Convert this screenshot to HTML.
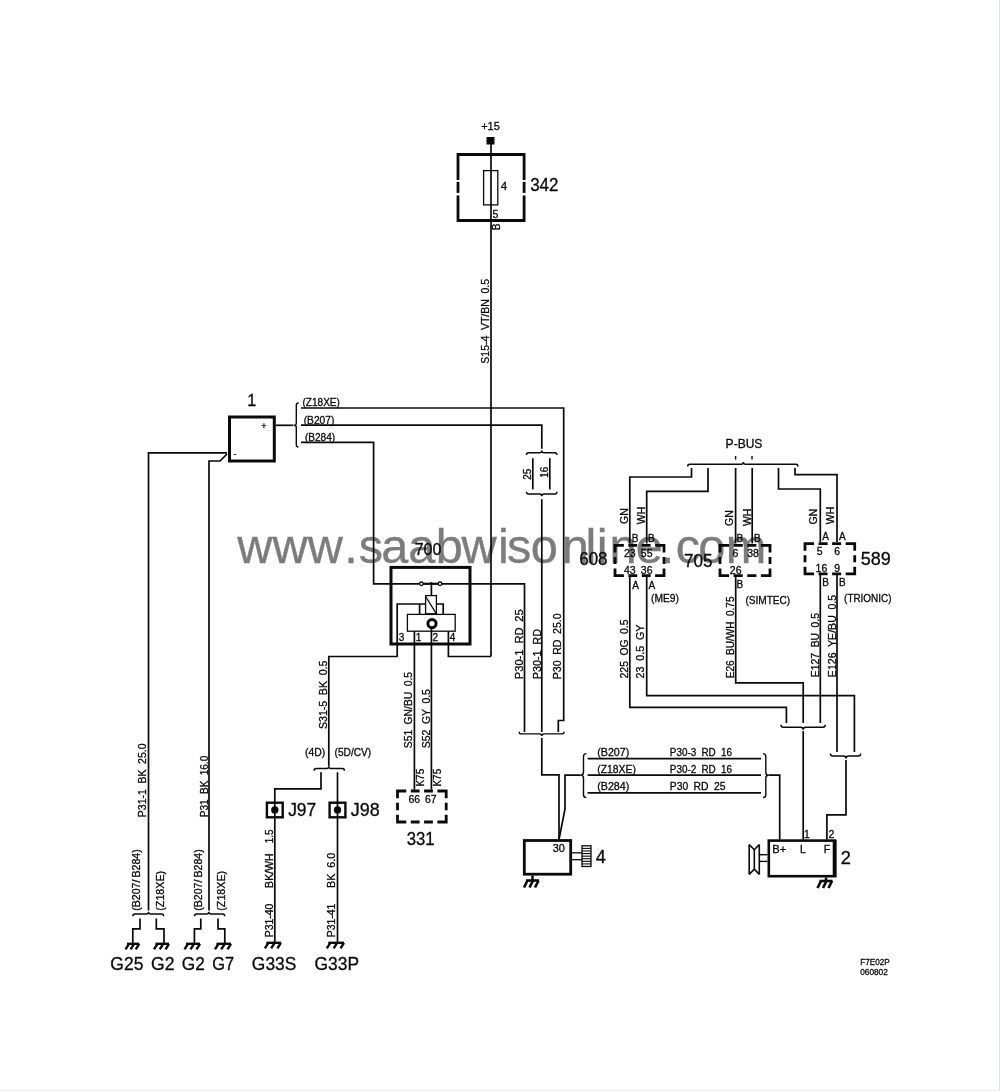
<!DOCTYPE html>
<html><head><meta charset="utf-8"><style>
html,body{margin:0;padding:0;background:#fff;}
svg{display:block;will-change:transform;}
text{font-family:"Liberation Sans", sans-serif;white-space:pre;}
.t{stroke:#0a0a0a;stroke-width:0.3;word-spacing:0.25em;}
</style></head><body>
<svg width="1000" height="1091" viewBox="0 0 1000 1091">
<rect x="0" y="0" width="1000" height="1091" fill="#fff"/>
<text x="237.30 272.47 307.64 344.31 358.84 381.19 408.27 435.86 461.44 498.11 506.93 530.78 561.87 585.45 596.77 609.59 635.68 660.76 675.79 698.14 725.72" y="562.7" font-size="48.7" fill="#7c7c7c" stroke="#7c7c7c" stroke-width="0.35">www.saabwisonline.com</text>
<text x="490.50" y="129.98" font-size="11" text-anchor="middle" fill="#0a0a0a" class="t">+15</text>
<rect x="486.50" y="137.00" width="8.00" height="7.50" fill="#0a0a0a"/>
<path d="M491.00,140.00 L491.00,656.50" fill="none" stroke="#0a0a0a" stroke-width="1.7"/>
<path d="M458.00,180.00 L458.00,154.50 L524.10,154.50 L524.10,180.00" fill="none" stroke="#0a0a0a" stroke-width="2.8"/>
<path d="M458.00,195.60 L458.00,220.50 L524.10,220.50 L524.10,195.60" fill="none" stroke="#0a0a0a" stroke-width="2.8"/>
<path d="M458.00,181.80 L458.00,192.90" fill="none" stroke="#0a0a0a" stroke-width="2.8"/>
<path d="M524.10,181.80 L524.10,192.90" fill="none" stroke="#0a0a0a" stroke-width="2.8"/>
<rect x="483.60" y="170.60" width="14.20" height="34.30" fill="none" stroke="#0a0a0a" stroke-width="1.3"/>
<text x="504.00" y="189.76" font-size="11.5" text-anchor="middle" fill="#0a0a0a" class="t">4</text>
<text x="544.35" y="191.32" font-size="17.8" text-anchor="middle" fill="#0a0a0a" class="t" textLength="28.37" lengthAdjust="spacingAndGlyphs">342</text>
<text x="495.50" y="217.81" font-size="10.5" text-anchor="middle" fill="#0a0a0a" class="t">5</text>
<text transform="translate(500.44,226.80) rotate(-90)" x="0" y="0" font-size="10" text-anchor="middle" fill="#0a0a0a" class="t">B</text>
<rect x="229.50" y="417.00" width="44.80" height="44.00" fill="none" stroke="#0a0a0a" stroke-width="3"/>
<text x="251.70" y="406.00" font-size="16" text-anchor="middle" fill="#0a0a0a" class="t">1</text>
<text x="264.00" y="428.60" font-size="9" text-anchor="middle" fill="#0a0a0a" class="t">+</text>
<text x="235.00" y="456.60" font-size="9" text-anchor="middle" fill="#0a0a0a" class="t">-</text>
<path d="M276.00,425.30 L293.50,425.30" fill="none" stroke="#0a0a0a" stroke-width="1.7"/>
<path d="M298.50,403.00 Q296.30,403.00 296.30,405.20 L296.30,423.10 Q296.30,425.30 294.10,425.30 Q296.30,425.30 296.30,427.50 L296.30,444.80 Q296.30,447.00 298.50,447.00" fill="none" stroke="#0a0a0a" stroke-width="1.4"/>
<text x="321.20" y="406.11" font-size="10.5" text-anchor="middle" fill="#0a0a0a" class="t" textLength="37.43" lengthAdjust="spacingAndGlyphs">(Z18XE)</text>
<text x="319.00" y="423.61" font-size="10.5" text-anchor="middle" fill="#0a0a0a" class="t" textLength="30.63" lengthAdjust="spacingAndGlyphs">(B207)</text>
<text x="320.00" y="440.61" font-size="10.5" text-anchor="middle" fill="#0a0a0a" class="t" textLength="30.23" lengthAdjust="spacingAndGlyphs">(B284)</text>
<path d="M301.00,408.00 L563.70,408.00 L563.70,720.50 L558.30,720.50 L558.30,732.00" fill="none" stroke="#0a0a0a" stroke-width="1.7"/>
<path d="M301.00,425.20 L541.80,425.20 L541.80,448.80" fill="none" stroke="#0a0a0a" stroke-width="1.7"/>
<path d="M526.40,455.00 Q526.40,452.80 528.60,452.80 L539.60,452.80 Q541.80,452.80 541.80,450.60 Q541.80,452.80 544.00,452.80 L554.80,452.80 Q557.00,452.80 557.00,455.00" fill="none" stroke="#0a0a0a" stroke-width="1.4"/>
<path d="M532.80,458.20 L532.80,489.40" fill="none" stroke="#0a0a0a" stroke-width="1.7"/>
<path d="M549.80,458.20 L549.80,489.40" fill="none" stroke="#0a0a0a" stroke-width="1.7"/>
<text transform="translate(531.04,474.20) rotate(-90)" x="0" y="0" font-size="10" text-anchor="middle" fill="#0a0a0a" class="t">25</text>
<text transform="translate(548.24,472.20) rotate(-90)" x="0" y="0" font-size="10" text-anchor="middle" fill="#0a0a0a" class="t">16</text>
<path d="M526.40,491.80 Q526.40,494.00 528.60,494.00 L539.60,494.00 Q541.80,494.00 541.80,496.20 Q541.80,494.00 544.00,494.00 L554.80,494.00 Q557.00,494.00 557.00,491.80" fill="none" stroke="#0a0a0a" stroke-width="1.4"/>
<path d="M541.80,499.20 L541.80,732.00" fill="none" stroke="#0a0a0a" stroke-width="1.7"/>
<path d="M301.00,442.40 L373.60,442.40 L373.60,583.80 L419.40,583.80" fill="none" stroke="#0a0a0a" stroke-width="1.7"/>
<path d="M227.00,452.80 L148.50,452.80 L148.50,910.50" fill="none" stroke="#0a0a0a" stroke-width="1.7"/>
<path d="M227.00,454.00 L220.00,461.00 L209.00,461.00 L209.00,910.50" fill="none" stroke="#0a0a0a" stroke-width="1.7"/>
<text transform="translate(146.08,780.30) rotate(-90)" x="0" y="0" font-size="11" text-anchor="middle" fill="#0a0a0a" class="t" textLength="73.86" lengthAdjust="spacingAndGlyphs">P31-1 BK 25.0</text>
<text transform="translate(207.98,786.50) rotate(-90)" x="0" y="0" font-size="11" text-anchor="middle" fill="#0a0a0a" class="t" textLength="61.46" lengthAdjust="spacingAndGlyphs">P31 BK 16.0</text>
<rect x="391.00" y="567.40" width="79.00" height="76.60" fill="none" stroke="#0a0a0a" stroke-width="3"/>
<text x="428.00" y="554.50" font-size="16" text-anchor="middle" fill="#0a0a0a" class="t">700</text>
<circle cx="421.40" cy="583.80" r="1.80" fill="#fff" stroke="#0a0a0a" stroke-width="1.3"/>
<circle cx="440.00" cy="583.80" r="1.80" fill="#fff" stroke="#0a0a0a" stroke-width="1.3"/>
<path d="M423.20,583.80 L438.20,583.80" fill="none" stroke="#0a0a0a" stroke-width="2.2"/>
<path d="M441.80,583.80 L524.50,583.80 L524.50,732.00" fill="none" stroke="#0a0a0a" stroke-width="1.7"/>
<path d="M431.40,582.00 L431.40,595.60" fill="none" stroke="#0a0a0a" stroke-width="1.7"/>
<path d="M397.20,656.80 L397.20,604.00 L443.20,604.00 L443.20,614.40" fill="none" stroke="#0a0a0a" stroke-width="1.7"/>
<path d="M419.60,604.00 L419.60,614.40" fill="none" stroke="#0a0a0a" stroke-width="1.7"/>
<rect x="425.60" y="595.60" width="10.80" height="18.20" fill="#fff" stroke="#0a0a0a" stroke-width="1.3"/>
<path d="M425.60,596.50 L436.40,613.80" fill="none" stroke="#0a0a0a" stroke-width="1.3"/>
<rect x="407.40" y="614.40" width="47.80" height="16.80" fill="none" stroke="#0a0a0a" stroke-width="1.3"/>
<circle cx="432.00" cy="623.60" r="4.10" fill="none" stroke="#0a0a0a" stroke-width="3.0"/>
<path d="M414.40,631.20 L414.40,789.70" fill="none" stroke="#0a0a0a" stroke-width="1.7"/>
<path d="M431.40,627.80 L431.40,789.70" fill="none" stroke="#0a0a0a" stroke-width="1.7"/>
<path d="M448.40,631.20 L448.40,656.50 L491.00,656.50" fill="none" stroke="#0a0a0a" stroke-width="1.7"/>
<text x="401.60" y="640.84" font-size="10" text-anchor="middle" fill="#0a0a0a" class="t">3</text>
<text x="418.60" y="640.84" font-size="10" text-anchor="middle" fill="#0a0a0a" class="t">1</text>
<text x="435.40" y="640.84" font-size="10" text-anchor="middle" fill="#0a0a0a" class="t">2</text>
<text x="452.60" y="640.84" font-size="10" text-anchor="middle" fill="#0a0a0a" class="t">4</text>
<path d="M397.20,656.50 L328.80,656.50 L328.80,766.00" fill="none" stroke="#0a0a0a" stroke-width="1.7"/>
<text transform="translate(326.98,694.85) rotate(-90)" x="0" y="0" font-size="11" text-anchor="middle" fill="#0a0a0a" class="t" textLength="68.56" lengthAdjust="spacingAndGlyphs">S31-5 BK 0.5</text>
<text transform="translate(411.98,710.10) rotate(-90)" x="0" y="0" font-size="11" text-anchor="middle" fill="#0a0a0a" class="t" textLength="76.26" lengthAdjust="spacingAndGlyphs">S51 GN/BU 0.5</text>
<text transform="translate(429.78,718.65) rotate(-90)" x="0" y="0" font-size="11" text-anchor="middle" fill="#0a0a0a" class="t" textLength="59.16" lengthAdjust="spacingAndGlyphs">S52 GY 0.5</text>
<text transform="translate(523.28,644.25) rotate(-90)" x="0" y="0" font-size="11" text-anchor="middle" fill="#0a0a0a" class="t" textLength="69.96" lengthAdjust="spacingAndGlyphs">P30-1 RD 25</text>
<text transform="translate(540.58,654.15) rotate(-90)" x="0" y="0" font-size="11" text-anchor="middle" fill="#0a0a0a" class="t" textLength="50.16" lengthAdjust="spacingAndGlyphs">P30-1 RD</text>
<text transform="translate(561.28,646.30) rotate(-90)" x="0" y="0" font-size="11" text-anchor="middle" fill="#0a0a0a" class="t" textLength="65.86" lengthAdjust="spacingAndGlyphs">P30 RD 25.0</text>
<text transform="translate(489.46,321.35) rotate(-90)" x="0" y="0" font-size="11.5" text-anchor="middle" fill="#0a0a0a" class="t" textLength="84.79" lengthAdjust="spacingAndGlyphs">S15-4 VT/BN 0.5</text>
<path d="M406.30,791.00 L397.50,791.00 L397.50,798.33 M437.40,791.00 L446.20,791.00 L446.20,798.33 M406.30,822.00 L397.50,822.00 L397.50,814.67 M437.40,822.00 L446.20,822.00 L446.20,814.67 M410.80,791.00 L419.60,791.00 M410.80,822.00 L419.60,822.00 M424.10,791.00 L432.90,791.00 M424.10,822.00 L432.90,822.00 M397.50,802.83 L397.50,810.17 M446.20,802.83 L446.20,810.17" fill="none" stroke="#0a0a0a" stroke-width="2.8" stroke-linejoin="miter"/>
<text x="414.30" y="803.01" font-size="10.5" text-anchor="middle" fill="#0a0a0a" class="t">66</text>
<text x="430.80" y="803.01" font-size="10.5" text-anchor="middle" fill="#0a0a0a" class="t">67</text>
<text transform="translate(423.61,777.70) rotate(-90)" x="0" y="0" font-size="10.5" text-anchor="middle" fill="#0a0a0a" class="t" textLength="17.83" lengthAdjust="spacingAndGlyphs">K75</text>
<text transform="translate(440.71,777.70) rotate(-90)" x="0" y="0" font-size="10.5" text-anchor="middle" fill="#0a0a0a" class="t" textLength="17.83" lengthAdjust="spacingAndGlyphs">K75</text>
<text x="420.60" y="844.82" font-size="17.8" text-anchor="middle" fill="#0a0a0a" class="t" textLength="27.87" lengthAdjust="spacingAndGlyphs">331</text>
<path d="M314.00,770.70 Q314.00,768.50 316.20,768.50 L326.60,768.50 Q328.80,768.50 328.80,766.30 Q328.80,768.50 331.00,768.50 L342.30,768.50 Q344.50,768.50 344.50,770.70" fill="none" stroke="#0a0a0a" stroke-width="1.4"/>
<path d="M321.00,772.30 L321.00,788.90 L274.80,788.90 L274.80,942.80" fill="none" stroke="#0a0a0a" stroke-width="1.7"/>
<path d="M337.50,772.30 L337.50,942.80" fill="none" stroke="#0a0a0a" stroke-width="1.7"/>
<text x="315.15" y="755.91" font-size="10.5" text-anchor="middle" fill="#0a0a0a" class="t" textLength="20.33" lengthAdjust="spacingAndGlyphs">(4D)</text>
<text x="352.90" y="755.91" font-size="10.5" text-anchor="middle" fill="#0a0a0a" class="t" textLength="36.63" lengthAdjust="spacingAndGlyphs">(5D/CV)</text>
<rect x="266.90" y="802.70" width="15.80" height="14.60" fill="#fff" stroke="#0a0a0a" stroke-width="2.4"/>
<circle cx="274.80" cy="809.90" r="3.70" fill="#0a0a0a" stroke="#0a0a0a" stroke-width="0"/>
<rect x="329.60" y="802.70" width="15.80" height="14.60" fill="#fff" stroke="#0a0a0a" stroke-width="2.4"/>
<circle cx="337.50" cy="809.90" r="3.70" fill="#0a0a0a" stroke="#0a0a0a" stroke-width="0"/>
<path d="M274.80,802.80 L274.80,817.00" fill="none" stroke="#0a0a0a" stroke-width="1.7"/>
<path d="M337.50,802.80 L337.50,817.00" fill="none" stroke="#0a0a0a" stroke-width="1.7"/>
<text x="302.20" y="816.32" font-size="17.8" text-anchor="middle" fill="#0a0a0a" class="t" textLength="28.07" lengthAdjust="spacingAndGlyphs">J97</text>
<text x="365.35" y="816.32" font-size="17.8" text-anchor="middle" fill="#0a0a0a" class="t" textLength="28.97" lengthAdjust="spacingAndGlyphs">J98</text>
<text transform="translate(273.31,920.50) rotate(-90)" x="0" y="0" font-size="10.5" text-anchor="middle" fill="#0a0a0a" class="t" textLength="33.63" lengthAdjust="spacingAndGlyphs">P31-40</text>
<text transform="translate(273.31,870.65) rotate(-90)" x="0" y="0" font-size="10.5" text-anchor="middle" fill="#0a0a0a" class="t" textLength="34.53" lengthAdjust="spacingAndGlyphs">BK/WH</text>
<text transform="translate(273.31,836.40) rotate(-90)" x="0" y="0" font-size="10.5" text-anchor="middle" fill="#0a0a0a" class="t" textLength="13.83" lengthAdjust="spacingAndGlyphs">1.5</text>
<text transform="translate(335.21,920.50) rotate(-90)" x="0" y="0" font-size="10.5" text-anchor="middle" fill="#0a0a0a" class="t" textLength="33.63" lengthAdjust="spacingAndGlyphs">P31-41</text>
<text transform="translate(335.21,870.40) rotate(-90)" x="0" y="0" font-size="10.5" text-anchor="middle" fill="#0a0a0a" class="t" textLength="35.03" lengthAdjust="spacingAndGlyphs">BK 6.0</text>
<path d="M266.40,942.80 L280.90,942.80" fill="none" stroke="#0a0a0a" stroke-width="2.4"/>
<path d="M268.40,942.80 L264.90,948.30" fill="none" stroke="#0a0a0a" stroke-width="2.4"/>
<path d="M274.65,942.80 L271.15,948.30" fill="none" stroke="#0a0a0a" stroke-width="2.4"/>
<path d="M280.90,942.80 L277.40,948.30" fill="none" stroke="#0a0a0a" stroke-width="2.4"/>
<path d="M328.30,942.80 L344.00,942.80" fill="none" stroke="#0a0a0a" stroke-width="2.4"/>
<path d="M330.30,942.80 L326.80,948.30" fill="none" stroke="#0a0a0a" stroke-width="2.4"/>
<path d="M337.15,942.80 L333.65,948.30" fill="none" stroke="#0a0a0a" stroke-width="2.4"/>
<path d="M344.00,942.80 L340.50,948.30" fill="none" stroke="#0a0a0a" stroke-width="2.4"/>
<text x="274.10" y="969.52" font-size="17.8" text-anchor="middle" fill="#0a0a0a" class="t" textLength="44.47" lengthAdjust="spacingAndGlyphs">G33S</text>
<text x="336.80" y="969.52" font-size="17.8" text-anchor="middle" fill="#0a0a0a" class="t" textLength="44.47" lengthAdjust="spacingAndGlyphs">G33P</text>
<path d="M132.80,916.20 Q132.80,914.00 135.00,914.00 L146.30,914.00 Q148.50,914.00 148.50,911.80 Q148.50,914.00 150.70,914.00 L161.50,914.00 Q163.70,914.00 163.70,916.20" fill="none" stroke="#0a0a0a" stroke-width="1.4"/>
<path d="M140.00,918.40 L140.00,928.80 L132.80,928.80 L132.80,943.50" fill="none" stroke="#0a0a0a" stroke-width="1.7"/>
<path d="M156.30,918.40 L156.30,928.80 L164.00,928.80 L164.00,943.50" fill="none" stroke="#0a0a0a" stroke-width="1.7"/>
<path d="M194.40,916.20 Q194.40,914.00 196.60,914.00 L206.60,914.00 Q208.80,914.00 208.80,911.80 Q208.80,914.00 211.00,914.00 L222.60,914.00 Q224.80,914.00 224.80,916.20" fill="none" stroke="#0a0a0a" stroke-width="1.4"/>
<path d="M200.80,918.40 L200.80,928.80 L194.40,928.80 L194.40,943.50" fill="none" stroke="#0a0a0a" stroke-width="1.7"/>
<path d="M218.00,918.40 L218.00,928.80 L224.80,928.80 L224.80,943.50" fill="none" stroke="#0a0a0a" stroke-width="1.7"/>
<path d="M127.00,943.80 L139.20,943.80" fill="none" stroke="#0a0a0a" stroke-width="2.4"/>
<path d="M129.00,943.80 L125.50,949.30" fill="none" stroke="#0a0a0a" stroke-width="2.4"/>
<path d="M134.10,943.80 L130.60,949.30" fill="none" stroke="#0a0a0a" stroke-width="2.4"/>
<path d="M139.20,943.80 L135.70,949.30" fill="none" stroke="#0a0a0a" stroke-width="2.4"/>
<path d="M155.50,943.80 L169.00,943.80" fill="none" stroke="#0a0a0a" stroke-width="2.4"/>
<path d="M157.50,943.80 L154.00,949.30" fill="none" stroke="#0a0a0a" stroke-width="2.4"/>
<path d="M163.25,943.80 L159.75,949.30" fill="none" stroke="#0a0a0a" stroke-width="2.4"/>
<path d="M169.00,943.80 L165.50,949.30" fill="none" stroke="#0a0a0a" stroke-width="2.4"/>
<path d="M186.00,943.80 L200.00,943.80" fill="none" stroke="#0a0a0a" stroke-width="2.4"/>
<path d="M188.00,943.80 L184.50,949.30" fill="none" stroke="#0a0a0a" stroke-width="2.4"/>
<path d="M194.00,943.80 L190.50,949.30" fill="none" stroke="#0a0a0a" stroke-width="2.4"/>
<path d="M200.00,943.80 L196.50,949.30" fill="none" stroke="#0a0a0a" stroke-width="2.4"/>
<path d="M216.50,943.80 L231.00,943.80" fill="none" stroke="#0a0a0a" stroke-width="2.4"/>
<path d="M218.50,943.80 L215.00,949.30" fill="none" stroke="#0a0a0a" stroke-width="2.4"/>
<path d="M224.75,943.80 L221.25,949.30" fill="none" stroke="#0a0a0a" stroke-width="2.4"/>
<path d="M231.00,943.80 L227.50,949.30" fill="none" stroke="#0a0a0a" stroke-width="2.4"/>
<text transform="translate(140.41,880.00) rotate(-90)" x="0" y="0" font-size="10.5" text-anchor="middle" fill="#0a0a0a" class="t" textLength="61.43" lengthAdjust="spacingAndGlyphs">(B207/ B284)</text>
<text transform="translate(164.41,890.80) rotate(-90)" x="0" y="0" font-size="10.5" text-anchor="middle" fill="#0a0a0a" class="t" textLength="39.83" lengthAdjust="spacingAndGlyphs">(Z18XE)</text>
<text transform="translate(201.51,880.00) rotate(-90)" x="0" y="0" font-size="10.5" text-anchor="middle" fill="#0a0a0a" class="t" textLength="61.43" lengthAdjust="spacingAndGlyphs">(B207/ B284)</text>
<text transform="translate(224.91,890.80) rotate(-90)" x="0" y="0" font-size="10.5" text-anchor="middle" fill="#0a0a0a" class="t" textLength="39.83" lengthAdjust="spacingAndGlyphs">(Z18XE)</text>
<text x="126.90" y="969.72" font-size="17.8" text-anchor="middle" fill="#0a0a0a" class="t" textLength="33.07" lengthAdjust="spacingAndGlyphs">G25</text>
<text x="162.70" y="969.72" font-size="17.8" text-anchor="middle" fill="#0a0a0a" class="t" textLength="23.47" lengthAdjust="spacingAndGlyphs">G2</text>
<text x="193.35" y="969.72" font-size="17.8" text-anchor="middle" fill="#0a0a0a" class="t" textLength="22.97" lengthAdjust="spacingAndGlyphs">G2</text>
<text x="223.20" y="969.72" font-size="17.8" text-anchor="middle" fill="#0a0a0a" class="t" textLength="21.87" lengthAdjust="spacingAndGlyphs">G7</text>
<text x="744.00" y="448.13" font-size="12" text-anchor="middle" fill="#0a0a0a" class="t" textLength="36.72" lengthAdjust="spacingAndGlyphs">P-BUS</text>
<path d="M735.60,456.00 L735.60,459.60" fill="none" stroke="#0a0a0a" stroke-width="1.4"/>
<path d="M752.00,456.00 L752.00,459.60" fill="none" stroke="#0a0a0a" stroke-width="1.4"/>
<path d="M687.60,466.40 Q687.60,464.20 689.80,464.20 L741.20,464.20 Q743.40,464.20 743.40,462.00 Q743.40,464.20 745.60,464.20 L795.80,464.20 Q798.00,464.20 798.00,466.40" fill="none" stroke="#0a0a0a" stroke-width="1.4"/>
<path d="M691.50,468.00 L691.50,477.00 L629.80,477.00 L629.80,543.50" fill="none" stroke="#0a0a0a" stroke-width="1.7"/>
<path d="M708.00,468.00 L708.00,491.40 L646.70,491.40 L646.70,543.50" fill="none" stroke="#0a0a0a" stroke-width="1.7"/>
<path d="M735.60,468.00 L735.60,543.50" fill="none" stroke="#0a0a0a" stroke-width="1.7"/>
<path d="M752.20,468.00 L752.20,543.50" fill="none" stroke="#0a0a0a" stroke-width="1.7"/>
<path d="M778.50,468.00 L778.50,489.00 L820.30,489.00 L820.30,542.00" fill="none" stroke="#0a0a0a" stroke-width="1.7"/>
<path d="M795.00,468.00 L795.00,474.60 L837.00,474.60 L837.00,542.00" fill="none" stroke="#0a0a0a" stroke-width="1.7"/>
<path d="M623.88,545.40 L615.00,545.40 L615.00,552.47 M655.12,545.40 L664.00,545.40 L664.00,552.47 M623.88,575.60 L615.00,575.60 L615.00,568.53 M655.12,575.60 L664.00,575.60 L664.00,568.53 M628.38,545.40 L637.25,545.40 M628.38,575.60 L637.25,575.60 M641.75,545.40 L650.62,545.40 M641.75,575.60 L650.62,575.60 M615.00,556.97 L615.00,564.03 M664.00,556.97 L664.00,564.03" fill="none" stroke="#0a0a0a" stroke-width="2.8" stroke-linejoin="miter"/>
<text x="593.40" y="565.12" font-size="17.8" text-anchor="middle" fill="#0a0a0a" class="t" textLength="28.27" lengthAdjust="spacingAndGlyphs">608</text>
<text transform="translate(627.61,516.00) rotate(-90)" x="0" y="0" font-size="10.5" text-anchor="middle" fill="#0a0a0a" class="t">GN</text>
<text transform="translate(644.91,515.40) rotate(-90)" x="0" y="0" font-size="10.5" text-anchor="middle" fill="#0a0a0a" class="t">WH</text>
<text x="635.00" y="542.24" font-size="10" text-anchor="middle" fill="#0a0a0a" class="t">B</text>
<text x="651.30" y="542.24" font-size="10" text-anchor="middle" fill="#0a0a0a" class="t">B</text>
<text x="629.80" y="557.31" font-size="10.5" text-anchor="middle" fill="#0a0a0a" class="t">23</text>
<text x="646.70" y="557.31" font-size="10.5" text-anchor="middle" fill="#0a0a0a" class="t">55</text>
<text x="629.80" y="574.21" font-size="10.5" text-anchor="middle" fill="#0a0a0a" class="t">43</text>
<text x="646.70" y="574.21" font-size="10.5" text-anchor="middle" fill="#0a0a0a" class="t">36</text>
<text x="635.70" y="589.04" font-size="10" text-anchor="middle" fill="#0a0a0a" class="t">A</text>
<text x="651.90" y="589.04" font-size="10" text-anchor="middle" fill="#0a0a0a" class="t">A</text>
<text x="664.95" y="602.21" font-size="10.5" text-anchor="middle" fill="#0a0a0a" class="t" textLength="27.93" lengthAdjust="spacingAndGlyphs">(ME9)</text>
<path d="M729.12,545.40 L720.00,545.40 L720.00,552.47 M760.88,545.40 L770.00,545.40 L770.00,552.47 M729.12,575.60 L720.00,575.60 L720.00,568.53 M760.88,575.60 L770.00,575.60 L770.00,568.53 M733.62,545.40 L742.75,545.40 M733.62,575.60 L742.75,575.60 M747.25,545.40 L756.38,545.40 M747.25,575.60 L756.38,575.60 M720.00,556.97 L720.00,564.03 M770.00,556.97 L770.00,564.03" fill="none" stroke="#0a0a0a" stroke-width="2.8" stroke-linejoin="miter"/>
<text x="698.20" y="567.02" font-size="17.8" text-anchor="middle" fill="#0a0a0a" class="t" textLength="28.47" lengthAdjust="spacingAndGlyphs">705</text>
<text transform="translate(733.01,518.00) rotate(-90)" x="0" y="0" font-size="10.5" text-anchor="middle" fill="#0a0a0a" class="t">GN</text>
<text transform="translate(751.21,517.30) rotate(-90)" x="0" y="0" font-size="10.5" text-anchor="middle" fill="#0a0a0a" class="t">WH</text>
<text x="739.80" y="542.24" font-size="10" text-anchor="middle" fill="#0a0a0a" class="t">B</text>
<text x="757.40" y="542.24" font-size="10" text-anchor="middle" fill="#0a0a0a" class="t">B</text>
<text x="735.30" y="556.61" font-size="10.5" text-anchor="middle" fill="#0a0a0a" class="t">6</text>
<text x="753.00" y="556.61" font-size="10.5" text-anchor="middle" fill="#0a0a0a" class="t">38</text>
<text x="735.70" y="574.21" font-size="10.5" text-anchor="middle" fill="#0a0a0a" class="t">26</text>
<text x="739.80" y="588.44" font-size="10" text-anchor="middle" fill="#0a0a0a" class="t">B</text>
<text x="767.80" y="603.51" font-size="10.5" text-anchor="middle" fill="#0a0a0a" class="t" textLength="44.83" lengthAdjust="spacingAndGlyphs">(SIMTEC)</text>
<path d="M814.05,543.70 L805.00,543.70 L805.00,550.73 M845.65,543.70 L854.70,543.70 L854.70,550.73 M814.05,573.80 L805.00,573.80 L805.00,566.77 M845.65,573.80 L854.70,573.80 L854.70,566.77 M818.55,543.70 L827.60,543.70 M818.55,573.80 L827.60,573.80 M832.10,543.70 L841.15,543.70 M832.10,573.80 L841.15,573.80 M805.00,555.23 L805.00,562.27 M854.70,555.23 L854.70,562.27" fill="none" stroke="#0a0a0a" stroke-width="2.8" stroke-linejoin="miter"/>
<text x="875.80" y="564.62" font-size="17.8" text-anchor="middle" fill="#0a0a0a" class="t" textLength="30.07" lengthAdjust="spacingAndGlyphs">589</text>
<text transform="translate(816.81,516.70) rotate(-90)" x="0" y="0" font-size="10.5" text-anchor="middle" fill="#0a0a0a" class="t">GN</text>
<text transform="translate(834.11,515.40) rotate(-90)" x="0" y="0" font-size="10.5" text-anchor="middle" fill="#0a0a0a" class="t">WH</text>
<text x="825.50" y="539.64" font-size="10" text-anchor="middle" fill="#0a0a0a" class="t">A</text>
<text x="842.40" y="539.64" font-size="10" text-anchor="middle" fill="#0a0a0a" class="t">A</text>
<text x="819.70" y="554.61" font-size="10.5" text-anchor="middle" fill="#0a0a0a" class="t">5</text>
<text x="837.20" y="554.61" font-size="10.5" text-anchor="middle" fill="#0a0a0a" class="t">6</text>
<text x="821.40" y="571.61" font-size="10.5" text-anchor="middle" fill="#0a0a0a" class="t">16</text>
<text x="837.20" y="571.61" font-size="10.5" text-anchor="middle" fill="#0a0a0a" class="t">9</text>
<text x="825.50" y="586.44" font-size="10" text-anchor="middle" fill="#0a0a0a" class="t">B</text>
<text x="842.40" y="586.44" font-size="10" text-anchor="middle" fill="#0a0a0a" class="t">B</text>
<text x="867.80" y="601.61" font-size="10.5" text-anchor="middle" fill="#0a0a0a" class="t" textLength="47.43" lengthAdjust="spacingAndGlyphs">(TRIONIC)</text>
<path d="M629.80,576.00 L629.80,707.40 L786.40,707.40 L786.40,723.00" fill="none" stroke="#0a0a0a" stroke-width="1.7"/>
<path d="M646.70,576.00 L646.70,695.70 L854.40,695.70 L854.40,752.00" fill="none" stroke="#0a0a0a" stroke-width="1.7"/>
<path d="M735.70,576.00 L735.70,682.80 L803.20,682.80 L803.20,723.00" fill="none" stroke="#0a0a0a" stroke-width="1.7"/>
<path d="M820.30,574.50 L820.30,723.00" fill="none" stroke="#0a0a0a" stroke-width="1.7"/>
<path d="M837.00,574.50 L837.00,752.00" fill="none" stroke="#0a0a0a" stroke-width="1.7"/>
<path d="M780.90,724.70 Q780.90,727.20 783.40,727.20 L800.70,727.20 Q803.20,727.20 803.20,729.70 Q803.20,727.20 805.70,727.20 L822.80,727.20 Q825.30,727.20 825.30,724.70" fill="none" stroke="#0a0a0a" stroke-width="1.4"/>
<path d="M830.40,753.50 Q830.40,756.00 832.90,756.00 L843.50,756.00 Q846.00,756.00 846.00,758.50 Q846.00,756.00 848.50,756.00 L858.20,756.00 Q860.70,756.00 860.70,753.50" fill="none" stroke="#0a0a0a" stroke-width="1.4"/>
<path d="M803.20,731.00 L803.20,839.50" fill="none" stroke="#0a0a0a" stroke-width="1.7"/>
<path d="M846.00,760.00 L846.00,814.90 L826.90,814.90 L826.90,839.50" fill="none" stroke="#0a0a0a" stroke-width="1.7"/>
<text transform="translate(627.58,648.95) rotate(-90)" x="0" y="0" font-size="11" text-anchor="middle" fill="#0a0a0a" class="t" textLength="58.96" lengthAdjust="spacingAndGlyphs">225 OG 0.5</text>
<text transform="translate(644.38,651.45) rotate(-90)" x="0" y="0" font-size="11" text-anchor="middle" fill="#0a0a0a" class="t" textLength="53.96" lengthAdjust="spacingAndGlyphs">23 0.5 GY</text>
<text transform="translate(734.18,637.35) rotate(-90)" x="0" y="0" font-size="11" text-anchor="middle" fill="#0a0a0a" class="t" textLength="81.76" lengthAdjust="spacingAndGlyphs">E26 BU/WH 0.75</text>
<text transform="translate(818.68,645.05) rotate(-90)" x="0" y="0" font-size="11" text-anchor="middle" fill="#0a0a0a" class="t" textLength="64.16" lengthAdjust="spacingAndGlyphs">E127 BU 0.5</text>
<text transform="translate(836.28,636.00) rotate(-90)" x="0" y="0" font-size="11" text-anchor="middle" fill="#0a0a0a" class="t" textLength="82.26" lengthAdjust="spacingAndGlyphs">E126 YE/BU 0.5</text>
<path d="M519.20,731.70 Q519.20,733.90 521.40,733.90 L539.60,733.90 Q541.80,733.90 541.80,736.10 Q541.80,733.90 544.00,733.90 L561.90,733.90 Q564.10,733.90 564.10,731.70" fill="none" stroke="#0a0a0a" stroke-width="1.4"/>
<path d="M541.80,738.00 L541.80,774.80 L559.00,774.80 L559.00,839.50" fill="none" stroke="#0a0a0a" stroke-width="1.7"/>
<path d="M580.60,775.10 L565.00,775.10 L565.00,809.00 L559.00,839.50" fill="none" stroke="#0a0a0a" stroke-width="1.7"/>
<path d="M586.30,753.60 Q583.50,753.60 583.50,756.40 L583.50,772.30 Q583.50,775.10 580.70,775.10 Q583.50,775.10 583.50,777.90 L583.50,794.80 Q583.50,797.60 586.30,797.60" fill="none" stroke="#0a0a0a" stroke-width="1.4"/>
<path d="M587.60,758.70 L761.00,758.70" fill="none" stroke="#0a0a0a" stroke-width="1.7"/>
<path d="M587.60,775.20 L761.00,775.20" fill="none" stroke="#0a0a0a" stroke-width="1.7"/>
<path d="M587.60,792.80 L761.00,792.80" fill="none" stroke="#0a0a0a" stroke-width="1.7"/>
<path d="M763.00,753.60 Q765.80,753.60 765.80,756.40 L765.80,772.40 Q765.80,775.20 768.60,775.20 Q765.80,775.20 765.80,778.00 L765.80,794.80 Q765.80,797.60 763.00,797.60" fill="none" stroke="#0a0a0a" stroke-width="1.4"/>
<path d="M768.50,775.20 L779.70,775.20 L779.70,839.50" fill="none" stroke="#0a0a0a" stroke-width="1.7"/>
<text x="613.25" y="756.01" font-size="10.5" text-anchor="middle" fill="#0a0a0a" class="t" textLength="32.13" lengthAdjust="spacingAndGlyphs">(B207)</text>
<text x="616.55" y="772.51" font-size="10.5" text-anchor="middle" fill="#0a0a0a" class="t" textLength="38.73" lengthAdjust="spacingAndGlyphs">(Z18XE)</text>
<text x="613.25" y="789.71" font-size="10.5" text-anchor="middle" fill="#0a0a0a" class="t" textLength="32.13" lengthAdjust="spacingAndGlyphs">(B284)</text>
<text x="700.90" y="756.01" font-size="10.5" text-anchor="middle" fill="#0a0a0a" class="t" textLength="62.23" lengthAdjust="spacingAndGlyphs">P30-3 RD 16</text>
<text x="700.90" y="772.51" font-size="10.5" text-anchor="middle" fill="#0a0a0a" class="t" textLength="62.23" lengthAdjust="spacingAndGlyphs">P30-2 RD 16</text>
<text x="697.60" y="789.71" font-size="10.5" text-anchor="middle" fill="#0a0a0a" class="t" textLength="55.63" lengthAdjust="spacingAndGlyphs">P30 RD 25</text>
<rect x="524.30" y="840.50" width="46.40" height="33.70" fill="none" stroke="#0a0a0a" stroke-width="2.8"/>
<text x="558.75" y="852.41" font-size="10.5" text-anchor="middle" fill="#0a0a0a" class="t" textLength="12.13" lengthAdjust="spacingAndGlyphs">30</text>
<path d="M572.00,852.80 L582.00,852.80" fill="none" stroke="#0a0a0a" stroke-width="1.3"/>
<path d="M572.00,859.70 L582.00,859.70" fill="none" stroke="#0a0a0a" stroke-width="1.3"/>
<rect x="582.00" y="845.80" width="9.00" height="20.70" fill="none" stroke="#0a0a0a" stroke-width="1.3"/>
<path d="M582.00,848.39 L591.00,848.39" fill="none" stroke="#0a0a0a" stroke-width="1.1"/>
<path d="M582.00,850.97 L591.00,850.97" fill="none" stroke="#0a0a0a" stroke-width="1.1"/>
<path d="M582.00,853.56 L591.00,853.56" fill="none" stroke="#0a0a0a" stroke-width="1.1"/>
<path d="M582.00,856.15 L591.00,856.15" fill="none" stroke="#0a0a0a" stroke-width="1.1"/>
<path d="M582.00,858.74 L591.00,858.74" fill="none" stroke="#0a0a0a" stroke-width="1.1"/>
<path d="M582.00,861.33 L591.00,861.33" fill="none" stroke="#0a0a0a" stroke-width="1.1"/>
<path d="M582.00,863.91 L591.00,863.91" fill="none" stroke="#0a0a0a" stroke-width="1.1"/>
<text x="600.70" y="862.72" font-size="17.8" text-anchor="middle" fill="#0a0a0a" class="t" textLength="10.07" lengthAdjust="spacingAndGlyphs">4</text>
<path d="M532.50,875.50 L532.50,880.50" fill="none" stroke="#0a0a0a" stroke-width="2.5"/>
<path d="M526.00,880.50 L539.00,880.50" fill="none" stroke="#0a0a0a" stroke-width="2.6"/>
<path d="M527.50,880.50 L524.00,887.50" fill="none" stroke="#0a0a0a" stroke-width="2.6"/>
<path d="M533.00,880.50 L529.50,887.50" fill="none" stroke="#0a0a0a" stroke-width="2.6"/>
<path d="M538.50,880.50 L535.00,887.50" fill="none" stroke="#0a0a0a" stroke-width="2.6"/>
<rect x="768.80" y="840.60" width="66.20" height="35.60" fill="none" stroke="#0a0a0a" stroke-width="2.6"/>
<path d="M834.60,840.00 L834.60,877.00" fill="none" stroke="#0a0a0a" stroke-width="3.8"/>
<text x="779.35" y="853.11" font-size="10.5" text-anchor="middle" fill="#0a0a0a" class="t" textLength="13.93" lengthAdjust="spacingAndGlyphs">B+</text>
<text x="802.80" y="853.11" font-size="10.5" text-anchor="middle" fill="#0a0a0a" class="t">L</text>
<text x="826.90" y="853.11" font-size="10.5" text-anchor="middle" fill="#0a0a0a" class="t">F</text>
<text x="807.00" y="838.11" font-size="10.5" text-anchor="middle" fill="#0a0a0a" class="t">1</text>
<text x="831.50" y="838.11" font-size="10.5" text-anchor="middle" fill="#0a0a0a" class="t">2</text>
<text x="845.85" y="864.32" font-size="17.8" text-anchor="middle" fill="#0a0a0a" class="t" textLength="10.17" lengthAdjust="spacingAndGlyphs">2</text>
<path d="M759.30,854.70 L767.50,854.70" fill="none" stroke="#0a0a0a" stroke-width="1.4"/>
<path d="M759.30,861.40 L767.50,861.40" fill="none" stroke="#0a0a0a" stroke-width="1.4"/>
<path d="M749.20,844.60 L749.20,874.40" fill="none" stroke="#0a0a0a" stroke-width="1.6"/>
<path d="M759.30,844.60 L759.30,874.40" fill="none" stroke="#0a0a0a" stroke-width="1.6"/>
<path d="M754.30,849.70 L754.30,869.20" fill="none" stroke="#0a0a0a" stroke-width="1.6"/>
<path d="M749.20,844.60 L754.30,849.70 L759.30,844.60" fill="none" stroke="#0a0a0a" stroke-width="1.6"/>
<path d="M749.20,874.40 L754.30,869.20 L759.30,874.40" fill="none" stroke="#0a0a0a" stroke-width="1.6"/>
<path d="M826.00,877.50 L826.00,881.00" fill="none" stroke="#0a0a0a" stroke-width="2.5"/>
<path d="M819.50,881.00 L832.50,881.00" fill="none" stroke="#0a0a0a" stroke-width="2.6"/>
<path d="M821.00,881.00 L817.50,888.00" fill="none" stroke="#0a0a0a" stroke-width="2.6"/>
<path d="M826.50,881.00 L823.00,888.00" fill="none" stroke="#0a0a0a" stroke-width="2.6"/>
<path d="M832.00,881.00 L828.50,888.00" fill="none" stroke="#0a0a0a" stroke-width="2.6"/>
<text x="875.00" y="964.92" font-size="8.5" text-anchor="middle" fill="#0a0a0a" class="t" textLength="29.51" lengthAdjust="spacingAndGlyphs">F7E02P</text>
<text x="874.00" y="975.12" font-size="8.5" text-anchor="middle" fill="#0a0a0a" class="t" textLength="27.51" lengthAdjust="spacingAndGlyphs">060802</text>
<rect x="999" y="0" width="1" height="1091" fill="#d6e6e4"/>
<rect x="0" y="1090" width="1000" height="1" fill="#e6eef0"/>
</svg>
</body></html>
